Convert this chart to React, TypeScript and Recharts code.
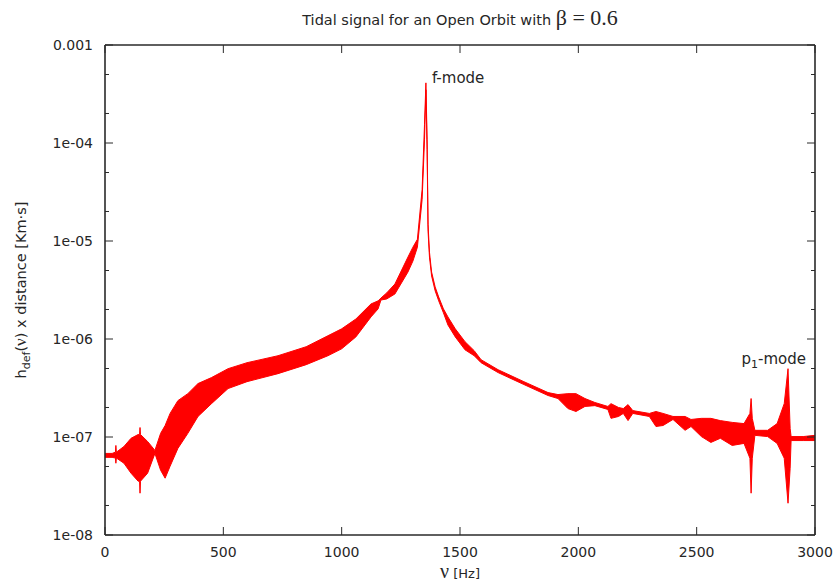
import React from 'react';
import { ComposedChart, Area, XAxis, YAxis, ReferenceDot, ReferenceLine } from 'recharts';

// Frequency samples [Hz] and the lower / upper envelope of the oscillating signal [Km·s]
const freq = [
  0, 30, 44, 46, 48, 80, 110, 140, 146, 148, 150, 180, 211, 235, 254, 275, 308, 350, 393, 450,
  520, 600, 731, 850, 942, 1000, 1060, 1124, 1154, 1166, 1190, 1225, 1280, 1301, 1320, 1340, 1350, 1356, 1361, 1365,
  1371, 1380, 1395, 1410, 1430, 1449, 1480, 1521, 1560, 1589, 1661, 1770, 1872, 1914, 1956, 1990, 2028, 2070, 2125, 2138,
  2170, 2190, 2210, 2230, 2300, 2328, 2358, 2400, 2451, 2476, 2520, 2560, 2600, 2650, 2700, 2725, 2730, 2735, 2746, 2800,
  2840, 2870, 2886, 2895, 2899, 2950, 3000,
];
const lower = [
  6.2e-8, 6.2e-8, 6.1e-8, 5.4e-8, 6.1e-8, 5.4e-8, 4.27e-8, 3.54e-8, 3.54e-8, 2.67e-8, 3.54e-8, 4.27e-8, 6.8e-8, 4.58e-8, 3.8e-8, 5.03e-8, 7.65e-8, 1.09e-7, 1.62e-7, 2.19e-7,
  3.12e-7, 3.67e-7, 4.43e-7, 5.47e-7, 6.75e-7, 7.94e-7, 1.05e-6, 1.68e-6, 2.03e-6, 2.5e-6, 2.56e-6, 2.88e-6, 4.82e-6, 6.24e-6, 8.65e-6, 2.66e-5, 1.08e-4, 3.49e-4, 8.57e-5, 1.26e-5,
  6.85e-6, 4.4e-6, 3.1e-6, 2.45e-6, 1.85e-6, 1.39e-6, 1.05e-6, 7.76e-7, 6.75e-7, 5.73e-7, 4.54e-7, 3.43e-7, 2.65e-7, 2.47e-7, 1.95e-7, 1.82e-7, 2.05e-7, 2.09e-7, 1.91e-7, 1.55e-7,
  1.62e-7, 1.74e-7, 1.47e-7, 1.74e-7, 1.62e-7, 1.28e-7, 1.31e-7, 1.51e-7, 1.17e-7, 1.28e-7, 1.01e-7, 8.8e-8, 9.7e-8, 8.2e-8, 8.6e-8, 6.07e-8, 2.67e-8, 6.07e-8, 1.04e-7, 1.01e-7,
  8.6e-8, 6.07e-8, 2.11e-8, 4.8e-8, 9.2e-8, 9.2e-8, 9.2e-8,
];
const upper = [
  6.8e-8, 6.8e-8, 7.0e-8, 8.2e-8, 7.0e-8, 8.0e-8, 9.7e-8, 1.06e-7, 1.06e-7, 1.25e-7, 1.06e-7, 9.0e-8, 7.3e-8, 1.09e-7, 1.31e-7, 1.74e-7, 2.35e-7, 2.77e-7, 3.51e-7, 4.04e-7,
  4.98e-7, 5.73e-7, 6.75e-7, 8.34e-7, 1.08e-6, 1.27e-6, 1.6e-6, 2.28e-6, 2.45e-6, 2.62e-6, 2.95e-6, 3.64e-6, 6.85e-6, 8.65e-6, 1.04e-5, 3.36e-5, 1.54e-4, 4.11e-4, 1.08e-4, 1.48e-5,
  7.69e-6, 4.82e-6, 3.4e-6, 2.68e-6, 2.03e-6, 1.68e-6, 1.27e-6, 9.4e-7, 7.6e-7, 6.15e-7, 4.86e-7, 3.67e-7, 2.84e-7, 2.71e-7, 2.77e-7, 2.77e-7, 2.47e-7, 2.25e-7, 2.05e-7, 2.19e-7,
  2.0e-7, 1.95e-7, 2.14e-7, 1.86e-7, 1.74e-7, 1.82e-7, 1.74e-7, 1.62e-7, 1.62e-7, 1.51e-7, 1.55e-7, 1.55e-7, 1.47e-7, 1.41e-7, 1.37e-7, 1.74e-7, 2.47e-7, 1.55e-7, 1.17e-7, 1.17e-7,
  1.37e-7, 2.19e-7, 4.98e-7, 1.22e-7, 1.01e-7, 1.01e-7, 1.04e-7,
];

const xTicks = [0, 500, 1000, 1500, 2000, 2500, 3000];
const yMajor = [1e-8, 1e-7, 1e-6, 1e-5, 1e-4, 1e-3];
const yMajorLabels = ['1e-08', '1e-07', '1e-06', '1e-05', '1e-04', '0.001'];
const yMinor = [2e-8, 5e-8, 2e-7, 5e-7, 2e-6, 5e-6, 2e-5, 5e-5, 2e-4, 5e-4];
const yTicks = [...yMajor, ...yMinor].sort((a, b) => a - b);
const xMin = 0;
const xMax = 3000;
const yMin = 1e-8;
const yMax = 1e-3;

const fPeak = { f: 1356, v: 4.11e-4, label: 'f-mode' };
const pPeak = { f: 2886, v: 4.98e-7, label: 'p', sub: '1', rest: '-mode' };

const data = freq.map((f, i) => ({ f, band: [lower[i], upper[i]] }));

const SANS = '"DejaVu Sans", Verdana, sans-serif';
const SERIF = '"Liberation Serif", "Times New Roman", serif';
const AXIS = '#2a2a2a';
const TXT = '#262626';
const TM = 12;
const MAJ = 8;
const MIN = 4;

function LeftTick(props: any) {
  const { x, y, payload } = props;
  const mi = yMajor.indexOf(payload.value);
  const ax = x + TM;
  return (
    <g>
      <line x1={ax} x2={ax + (mi >= 0 ? MAJ : MIN)} y1={y} y2={y} stroke={AXIS} strokeWidth={1} />
      {mi >= 0 && (
        <text x={x} y={y} dy={5} textAnchor="end" fontSize={14} fill={TXT} fontFamily={SANS}>
          {yMajorLabels[mi]}
        </text>
      )}
    </g>
  );
}

function BottomTick(props: any) {
  const { x, y, payload } = props;
  const ay = y - TM;
  return (
    <g>
      <line x1={x} x2={x} y1={ay} y2={ay - MAJ} stroke={AXIS} strokeWidth={1} />
      <text x={x} y={y} dy={10} textAnchor="middle" fontSize={14} fill={TXT} fontFamily={SANS}>
        {payload.value}
      </text>
    </g>
  );
}

// short inward tick at the top frame for a vertical reference line
function TopTickShape(props: any) {
  const top = Math.min(props.y1, props.y2);
  return <line x1={props.x1} x2={props.x1} y1={top} y2={top + MAJ} stroke={AXIS} strokeWidth={1} />;
}

function makeRightTick(major: boolean) {
  return function RightTickShape(props: any) {
    const right = Math.max(props.x1, props.x2);
    return <line x1={right} x2={right - (major ? MAJ : MIN)} y1={props.y1} y2={props.y1} stroke={AXIS} strokeWidth={1} />;
  };
}

function TitleLabel(props: any) {
  const vb = props.viewBox || {};
  const cx = vb.x + vb.width / 2;
  return (
    <text x={cx} y={vb.y - 20} textAnchor="middle" fill={TXT}>
      <tspan fontFamily={SANS} fontSize={14.5}>Tidal signal for an Open Orbit with </tspan>
      <tspan fontFamily={SERIF} fontSize={22}>β = 0.6</tspan>
    </text>
  );
}

function XLabel(props: any) {
  const vb = props.viewBox || {};
  const cx = vb.x + vb.width / 2;
  return (
    <text x={cx} y={vb.y + 43} textAnchor="middle" fill={TXT}>
      <tspan fontFamily={SERIF} fontSize={20}>ν</tspan>
      <tspan fontFamily={SANS} fontSize={13}> [Hz]</tspan>
    </text>
  );
}

function YLabel(props: any) {
  const vb = props.viewBox || {};
  const cx = vb.x - 19;
  const cy = vb.y + vb.height / 2;
  return (
    <text x={cx} y={cy} textAnchor="middle" fill={TXT} fontFamily={SANS} fontSize={14.5} transform={`rotate(-90, ${cx}, ${cy})`}>
      <tspan>h</tspan>
      <tspan fontSize={11} dy={4}>def</tspan>
      <tspan dy={-4}>(</tspan>
      <tspan fontFamily={SERIF} fontSize={17}>ν</tspan>
      <tspan>) x distance  [Km·s]</tspan>
    </text>
  );
}

function FLabel(props: any) {
  const vb = props.viewBox || {};
  const cx = vb.x + (vb.width || 0) / 2;
  const cy = vb.y + (vb.height || 0) / 2;
  return (
    <text x={cx + 6} y={cy} fill={TXT} fontFamily={SANS} fontSize={15}>
      {fPeak.label}
    </text>
  );
}

function PLabel(props: any) {
  const vb = props.viewBox || {};
  const cx = vb.x + (vb.width || 0) / 2;
  const cy = vb.y + (vb.height || 0) / 2;
  return (
    <text x={cx + 18} y={cy - 5} textAnchor="end" fill={TXT} fontFamily={SANS} fontSize={15}>
      <tspan>{pPeak.label}</tspan>
      <tspan fontSize={11} dy={4}>{pPeak.sub}</tspan>
      <tspan dy={-4}>{pPeak.rest}</tspan>
    </text>
  );
}

export default function App() {
  return (
    <div style={{ position: 'absolute', left: 0, top: 0, width: 838, height: 584, background: '#fff' }}>
      <ComposedChart width={838} height={584} data={data} margin={{ top: 45, right: 23, bottom: 19, left: 45 }}>
        <XAxis
          dataKey="f"
          type="number"
          domain={[xMin, xMax]}
          ticks={xTicks}
          allowDataOverflow
          tickLine={false}
          tickSize={0}
          tickMargin={TM}
          height={30}
          axisLine={{ stroke: AXIS, strokeWidth: 1.6 }}
          tick={<BottomTick />}
          interval={0}
          label={{ content: <XLabel /> }}
        />
        <YAxis
          type="number"
          scale="log"
          domain={[yMin, yMax]}
          ticks={yTicks}
          allowDataOverflow
          tickLine={false}
          tickSize={0}
          tickMargin={TM}
          width={60}
          axisLine={{ stroke: AXIS, strokeWidth: 1.6 }}
          tick={<LeftTick />}
          interval={0}
          label={{ content: <YLabel /> }}
        />
        <Area
          dataKey="band"
          type="linear"
          stroke="#ff0000"
          strokeWidth={1}
          fill="#ff0000"
          fillOpacity={1}
          dot={false}
          activeDot={false}
          isAnimationActive={false}
        />
        {xTicks.map((t) => (
          <ReferenceLine key={`tx${t}`} x={t} shape={<TopTickShape />} ifOverflow="visible" />
        ))}
        {yTicks.map((t) => {
          const Shape = makeRightTick(yMajor.indexOf(t) >= 0);
          return <ReferenceLine key={`ty${t}`} y={t} shape={<Shape />} ifOverflow="visible" />;
        })}
        <ReferenceLine y={yMax} stroke={AXIS} strokeWidth={1.6} ifOverflow="visible" label={{ content: <TitleLabel /> }} />
        <ReferenceLine x={xMax} stroke={AXIS} strokeWidth={1.6} ifOverflow="visible" />
        <ReferenceDot x={fPeak.f} y={fPeak.v} r={0} fill="none" stroke="none" label={{ content: <FLabel /> }} />
        <ReferenceDot x={pPeak.f} y={pPeak.v} r={0} fill="none" stroke="none" label={{ content: <PLabel /> }} />
      </ComposedChart>
    </div>
  );
}
